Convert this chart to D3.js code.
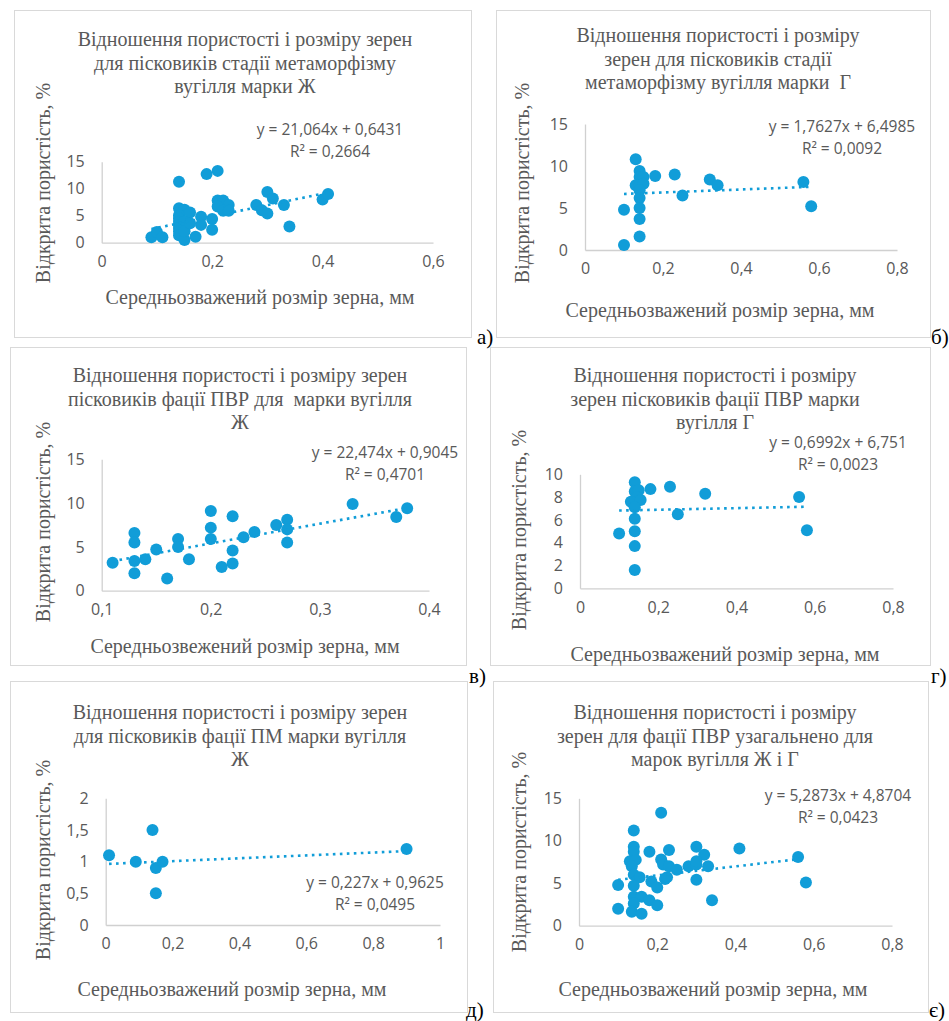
<!DOCTYPE html>
<html>
<head>
<meta charset="utf-8">
<script src="https://cdn.jsdelivr.net/npm/d3@7"></script>
<style>
  body { margin: 0; background: #fff; }
  .title, .axis-title { font-family: "Liberation Serif", "Times New Roman", serif; fill: #595959; }
  .title { font-size: 20px; white-space: pre; }
  .axis-title { font-size: 20px; }
  .tick text { font-family: "Open Sans", "Noto Sans", sans-serif; font-size: 16px; fill: #595959; }
  .eq { font-family: "Open Sans", "Noto Sans", sans-serif; font-size: 15.5px; fill: #595959; }
  .tag { font-family: "Liberation Serif", serif; font-size: 21px; fill: #000; }
</style>
</head>
<body>
<svg id="chart" width="949" height="1021"></svg>
<script>
// Data: [grain size, mm ; open porosity, %]
const pointsA = [
  [0.09, 1.0], [0.10, 2.0], [0.11, 1.0], [0.14, 11.3], [0.19, 12.7], [0.21, 13.3],
  [0.14, 6.4], [0.15, 6.1], [0.16, 5.6], [0.14, 5.1], [0.14, 4.5], [0.14, 3.9],
  [0.14, 3.3], [0.14, 2.7], [0.14, 2.1], [0.14, 1.4], [0.15, 3.9], [0.15, 2.7],
  [0.15, 0.5], [0.15, 2.1], [0.17, 1.1], [0.16, 3.6], [0.18, 4.8], [0.18, 3.3],
  [0.20, 4.4], [0.20, 2.4], [0.21, 7.8], [0.22, 7.8], [0.21, 6.7], [0.23, 7.0],
  [0.22, 5.9], [0.23, 5.9], [0.28, 7.0], [0.29, 6.0], [0.30, 9.4], [0.30, 5.4],
  [0.31, 8.2], [0.33, 7.0], [0.34, 3.0], [0.40, 8.0], [0.41, 9.0]
];
const pointsB = [
  [0.10, 0.6], [0.10, 4.8], [0.13, 10.8], [0.14, 9.4], [0.14, 8.7], [0.15, 8.7],
  [0.13, 7.7], [0.14, 7.7], [0.15, 7.9], [0.14, 7.1], [0.14, 6.2], [0.14, 5.0],
  [0.14, 3.7], [0.14, 1.6], [0.18, 8.8], [0.23, 9.0], [0.25, 6.5], [0.32, 8.4],
  [0.34, 7.7], [0.56, 8.1], [0.58, 5.2]
];
const pointsC = [
  [0.11, 3.2], [0.13, 6.6], [0.13, 5.5], [0.13, 3.4], [0.13, 2.0], [0.14, 3.6],
  [0.15, 4.7], [0.16, 1.4], [0.17, 5.9], [0.17, 5.0], [0.18, 3.6], [0.20, 9.1],
  [0.20, 7.2], [0.20, 5.9], [0.21, 2.7], [0.22, 8.5], [0.22, 4.6], [0.22, 3.1],
  [0.23, 6.1], [0.24, 6.7], [0.26, 7.5], [0.27, 8.1], [0.27, 7.0], [0.27, 5.5],
  [0.33, 9.9], [0.37, 8.4], [0.38, 9.4]
];
const pointsD = [
  [0.10, 4.8], [0.14, 9.3], [0.14, 8.5], [0.15, 8.6], [0.145, 8.0], [0.13, 7.6],
  [0.155, 7.75], [0.14, 7.1], [0.14, 6.1], [0.14, 5.0], [0.14, 3.7], [0.14, 1.6],
  [0.18, 8.7], [0.23, 8.9], [0.25, 6.5], [0.32, 8.3], [0.56, 8.0], [0.58, 5.1]
];
const pointsE = [
  [0.01, 1.1], [0.09, 1.0], [0.14, 1.5], [0.15, 0.9], [0.17, 1.0], [0.15, 0.5], [0.90, 1.2]
];
const pointsF = [
  [0.21, 13.3], [0.14, 11.2], [0.14, 9.3], [0.14, 8.7], [0.18, 8.7], [0.23, 8.9],
  [0.30, 9.3], [0.32, 8.35], [0.13, 7.6], [0.145, 7.75], [0.21, 7.8], [0.215, 7.2],
  [0.23, 7.0], [0.25, 6.6], [0.28, 7.0], [0.30, 7.2], [0.30, 7.6], [0.33, 7.0],
  [0.135, 7.0], [0.14, 6.0], [0.155, 5.7], [0.22, 5.5], [0.225, 5.7], [0.30, 5.4],
  [0.10, 4.8], [0.14, 4.7], [0.185, 5.2], [0.20, 4.5], [0.14, 3.4], [0.16, 3.4],
  [0.18, 3.0], [0.14, 2.6], [0.20, 2.4], [0.10, 2.0], [0.135, 1.65], [0.16, 1.4],
  [0.34, 3.0], [0.41, 9.1], [0.56, 8.1], [0.58, 5.1]
];

// Linear trendlines: [slope, intercept]
const trendA = [21.064, 0.6431];
const trendB = [1.7627, 6.4985];
const trendC = [22.474, 0.9045];
const trendD = [0.6992, 6.751];
const trendE = [0.227, 0.9625];
const trendF = [5.2873, 4.8704];

const eqA = ["y = 21,064x + 0,6431", "R² = 0,2664"];
const eqB = ["y = 1,7627x + 6,4985", "R² = 0,0092"];
const eqC = ["y = 22,474x + 0,9045", "R² = 0,4701"];
const eqD = ["y = 0,6992x + 6,751", "R² = 0,0023"];
const eqE = ["y = 0,227x + 0,9625", "R² = 0,0495"];
const eqF = ["y = 5,2873x + 4,8704", "R² = 0,0423"];

const titleA = ["Відношення пористості і розміру зерен", "для пісковиків стадії метаморфізму", "вугілля марки Ж"];
const titleB = ["Відношення пористості і розміру", "зерен для пісковиків стадії", "метаморфізму вугілля марки  Г"];
const titleC = ["Відношення пористості і розміру зерен", "пісковиків фації ПВР для  марки вугілля", "Ж"];
const titleD = ["Відношення пористості і розміру", "зерен пісковиків фації ПВР марки", "вугілля Г"];
const titleE = ["Відношення пористості і розміру зерен", "для пісковиків фації ПМ марки вугілля", "Ж"];
const titleF = ["Відношення пористості і розміру", "зерен для фації ПВР узагальнено для", "марок вугілля Ж і Г"];

const xTicks06 = [0, 0.2, 0.4, 0.6];
const xTicks08 = [0, 0.2, 0.4, 0.6, 0.8];
const xTicks04 = [0.1, 0.2, 0.3, 0.4];
const xTicks10 = [0, 0.2, 0.4, 0.6, 0.8, 1];
const yTicks15 = [0, 5, 10, 15];
const yTicks10 = [0, 2, 4, 6, 8, 10];
const yTicks2 = [0, 0.5, 1, 1.5, 2];

const yLabel = "Відкрита пористість, %";
const xLabel = "Середньозважений розмір зерна, мм";
const xLabelC = "Середньозвежений розмір зерна, мм";

const blue = "#119dd8";
const svg = d3.select("#chart");
const comma = d => String(d).replace(".", ",");

const panels = [
  { frame: [14, 10, 471, 337], title: titleA, tx: 245, ty: 46,
    box: { l: 101.7, r: 433, t: 161.7, b: 242.7 }, xd: [0, 0.6], xt: xTicks06, yd: [0, 15], yt: yTicks15,
    pts: pointsA, trend: trendA, eq: eqA, ex: 330, ey: 135,
    yT: [43, 183], xT: [260, 304], xl: xLabel, tag: ["а)", 477, 344] },
  { frame: [496, 10, 930, 337], title: titleB, tx: 718, ty: 42,
    box: { l: 585, r: 897, t: 124, b: 250 }, xd: [0, 0.8], xt: xTicks08, yd: [0, 15], yt: yTicks15,
    pts: pointsB, trend: trendB, eq: eqB, ex: 842, ey: 132,
    yT: [522, 183], xT: [720, 317], xl: xLabel, tag: ["б)", 931, 344] },
  { frame: [10, 347, 466, 665], title: titleC, tx: 240, ty: 382,
    box: { l: 101.7, r: 429, t: 459.3, b: 590.7 }, xd: [0.1, 0.4], xt: xTicks04, yd: [0, 15], yt: yTicks15,
    pts: pointsC, trend: trendC, eq: eqC, ex: 385, ey: 458,
    yT: [43, 522], xT: [245, 653], xl: xLabelC, tag: ["в)", 469, 683] },
  { frame: [490, 347, 930, 665], title: titleD, tx: 715, ty: 382,
    box: { l: 580, r: 893, t: 474.3, b: 588.3 }, xd: [0, 0.8], xt: xTicks08, yd: [0, 10], yt: yTicks10,
    pts: pointsD, trend: trendD, eq: eqD, ex: 838, ey: 448,
    yT: [519, 530], xT: [725, 661], xl: xLabel, tag: ["г)", 931, 683] },
  { frame: [10, 681, 467, 1012], title: titleE, tx: 240, ty: 719,
    box: { l: 105.7, r: 440, t: 798.3, b: 925 }, xd: [0, 1], xt: xTicks10, yd: [0, 2], yt: yTicks2,
    pts: pointsE, trend: trendE, eq: eqE, ex: 375, ey: 888,
    yT: [43, 860], xT: [232, 996], xl: xLabel, tag: ["д)", 466, 1017] },
  { frame: [493, 681, 928, 1012], title: titleF, tx: 715, ty: 719,
    box: { l: 579, r: 892, t: 798.3, b: 925.7 }, xd: [0, 0.8], xt: xTicks08, yd: [0, 15], yt: yTicks15,
    pts: pointsF, trend: trendF, eq: eqF, ex: 838, ey: 801,
    yT: [519, 852], xT: [713, 996], xl: xLabel, tag: ["є)", 929, 1017] }
];

function drawPanel(p) {
  const g = svg.append("g");
  g.append("rect")
    .attr("x", p.frame[0] + 0.5).attr("y", p.frame[1] + 0.5)
    .attr("width", p.frame[2] - p.frame[0]).attr("height", p.frame[3] - p.frame[1])
    .attr("fill", "#fff").attr("stroke", "#d9d9d9");

  const t = g.append("text").attr("class", "title").attr("text-anchor", "middle");
  p.title.forEach((line, i) => t.append("tspan").attr("x", p.tx).attr("y", p.ty + i * 23.5).text(line));

  const x = d3.scaleLinear().domain(p.xd).range([p.box.l, p.box.r]);
  const y = d3.scaleLinear().domain(p.yd).range([p.box.b, p.box.t]);

  const xa = g.append("g").attr("transform", `translate(0,${p.box.b})`)
    .call(d3.axisBottom(x).tickValues(p.xt).tickSize(0).tickPadding(13).tickFormat(comma));
  const ya = g.append("g").attr("transform", `translate(${p.box.l},0)`)
    .call(d3.axisLeft(y).tickValues(p.yt).tickSize(0).tickPadding(17).tickFormat(comma));
  [xa, ya].forEach(a => {
    a.select(".domain").attr("stroke", "#d0d0d0").attr("stroke-width", 1.3);
    a.attr("font-size", null).attr("font-family", null);
  });

  g.selectAll("circle").data(p.pts).join("circle")
    .attr("cx", d => x(d[0])).attr("cy", d => y(d[1]))
    .attr("r", 6).attr("fill", blue);

  const ext = d3.extent(p.pts, d => d[0]);
  g.append("line")
    .attr("x1", x(ext[0])).attr("y1", y(p.trend[0] * ext[0] + p.trend[1]))
    .attr("x2", x(ext[1])).attr("y2", y(p.trend[0] * ext[1] + p.trend[1]))
    .attr("stroke", blue).attr("stroke-width", 2.6).attr("stroke-dasharray", "2.6 4.4");

  p.eq.forEach((line, i) => g.append("text").attr("class", "eq").attr("text-anchor", "middle")
    .attr("x", p.ex).attr("y", p.ey + i * 21.5).text(line));

  g.append("text").attr("class", "axis-title").attr("text-anchor", "middle")
    .attr("dominant-baseline", "central")
    .attr("transform", `translate(${p.yT[0]},${p.yT[1]}) rotate(-90)`).text(yLabel);
  g.append("text").attr("class", "axis-title").attr("text-anchor", "middle")
    .attr("x", p.xT[0]).attr("y", p.xT[1]).text(p.xl);

  svg.append("text").attr("class", "tag").attr("x", p.tag[1]).attr("y", p.tag[2]).text(p.tag[0]);
}

panels.forEach(drawPanel);
</script>
</body>
</html>
